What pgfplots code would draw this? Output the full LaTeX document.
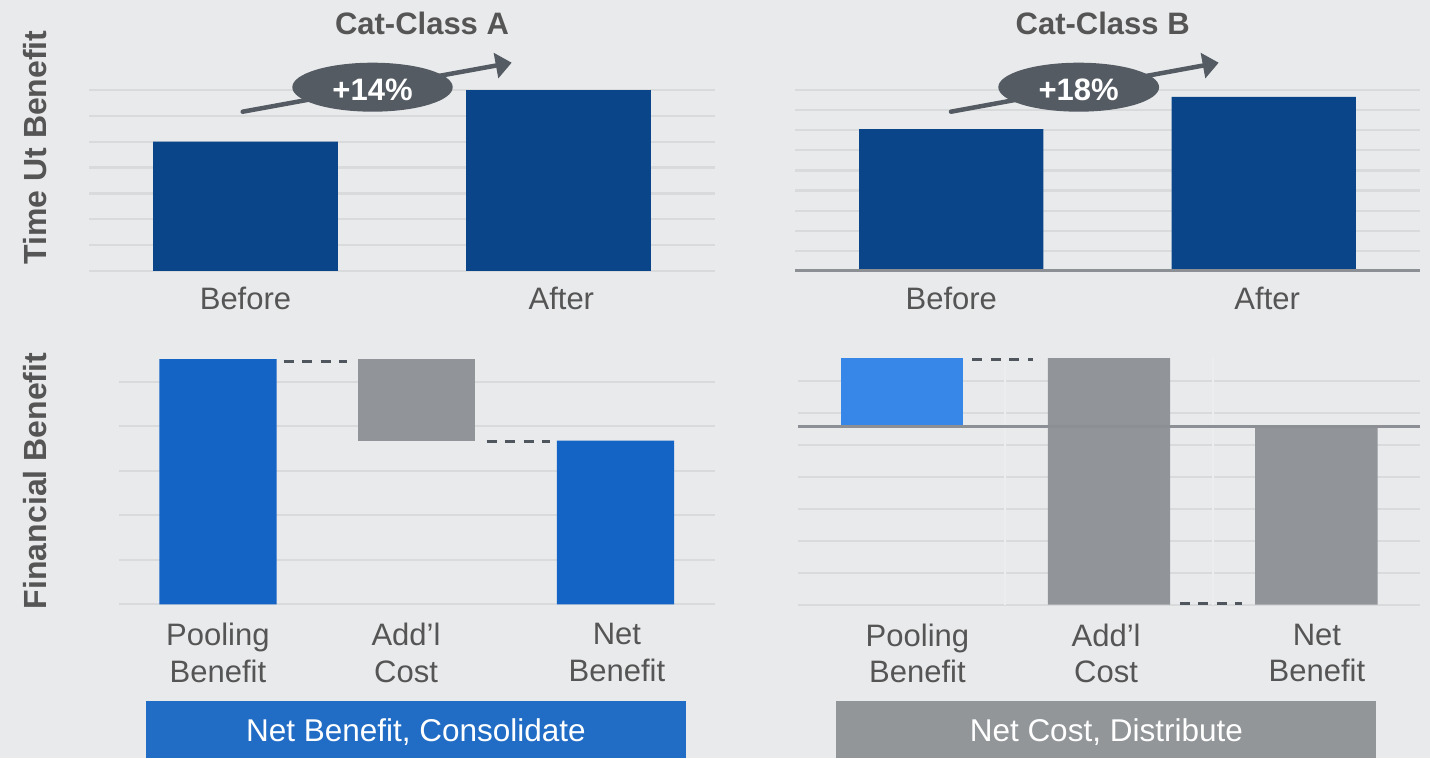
\documentclass[border=0pt]{standalone}
\usepackage{fontspec}
\setmainfont{Liberation Sans}
\usepackage{pgfplots}
\pgfplotsset{compat=1.18}
\usetikzlibrary{arrows.meta}
\definecolor{bg}{HTML}{E9EAEC}
\definecolor{gridc}{HTML}{D9DADC}
\definecolor{darkblue}{HTML}{0B4589}
\definecolor{midblue}{HTML}{1464C6}
\definecolor{lightblue}{HTML}{3787E8}
\definecolor{barGray}{HTML}{919599}
\definecolor{zeroc}{HTML}{8C8F93}
\definecolor{txt}{HTML}{555555}
\definecolor{bubble}{HTML}{545B63}
\definecolor{dashc}{HTML}{50565D}
\definecolor{bannerBlue}{HTML}{216CC5}
\definecolor{bannerGray}{HTML}{929699}
\definecolor{sepc}{HTML}{ECEDEE}

\pgfplotsset{
  panel/.style={
    scale only axis, anchor=south west, clip=false,
    axis line style={draw=none},
    major tick length=0pt,
    tick style={draw=none},
    ymajorgrids, xmajorgrids=false,
    grid style={gridc, line width=2.2pt},
    yticklabels={},
    enlargelimits=false,
    xticklabel style={font=\fontsize{31}{36.6}\selectfont, text=txt, anchor=north, inner sep=0pt, align=center},
  }
}

\begin{document}
\begin{tikzpicture}
\fill[bg] (0,0) rectangle (1430pt,758pt);

% ---------- Top left ----------
\begin{axis}[panel, at={(89pt,487pt)}, width=626pt, height=181pt,
  xmin=-0.5, xmax=1.5, ymin=0, ymax=7, ytick={0,1,2,3,4,5,6,7},
  xtick={0,1.009}, xticklabels={Before,After},
  xticklabel style={yshift=-16.3pt}]
\addplot[ybar, bar width=0.59, fill=darkblue, draw=none] coordinates {(0,5) (1,7)};
\end{axis}

% ---------- Top right ----------
\begin{axis}[panel, at={(795pt,487pt)}, width=625pt, height=181pt,
  xmin=-0.5, xmax=1.5, ymin=0, ymax=9, ytick={0,1,2,3,4,5,6,7,8,9},
  xtick={0,1.011}, xticklabels={Before,After},
  xticklabel style={yshift=-16.3pt}]
\addplot[ybar, bar width=0.59, fill=darkblue, draw=none] coordinates {(0,7.06) (1,8.66)};
\draw[zeroc, line width=3pt] (axis cs:-0.5,0) -- (axis cs:1.5,0);
\end{axis}

% ---------- Bottom left ----------
\begin{axis}[panel, at={(118.5pt,153.7pt)}, width=596.5pt, height=249.2pt,
  xmin=-0.5, xmax=2.5, ymin=0, ymax=5.6, ytick={0,1,2,3,4,5},
  xtick={0,0.946,2.007}, xticklabels={{Pooling\\Benefit},{Add’l\\Cost},{Net\\Benefit}},
  xticklabel style={yshift=-19pt},
  ybar stacked, bar width=0.59]
\addplot[draw=none, fill=none] coordinates {(0,0) (1,3.68) (2,0)};
\addplot[draw=none, fill=midblue] coordinates {(0,5.51) (1,0) (2,3.68)};
\addplot[draw=none, fill=barGray] coordinates {(0,0) (1,1.83) (2,0)};
\draw[dashc, line width=2.6pt, dash pattern=on 10pt off 8.5pt] (axis cs:0.331,5.46) -- (axis cs:0.647,5.46);
\draw[dashc, line width=2.6pt, dash pattern=on 10pt off 8.5pt] (axis cs:1.352,3.66) -- (axis cs:1.668,3.66);
\end{axis}

% ---------- Bottom right ----------
\begin{axis}[panel, at={(798pt,153.3pt)}, width=622pt, height=248.8pt,
  xmin=-0.5, xmax=2.5, ymin=-5.575, ymax=2.2,
  ytick={-5.575,-4.575,-3.575,-2.575,-1.575,-0.575,0.425,1.425},
  xtick={0.076,0.986,2.003}, xticklabels={{Pooling\\Benefit},{Add’l\\Cost},{Net\\Benefit}},
  xticklabel style={yshift=-19pt}]
\draw[sepc, line width=2pt] (axis cs:0.5,-5.575) -- (axis cs:0.5,2.134);
\draw[sepc, line width=2pt] (axis cs:1.5,-5.575) -- (axis cs:1.5,2.134);
\addplot[ybar, bar width=0.59, draw=none, fill=lightblue] coordinates {(0,2.134)};
\addplot[ybar, bar width=0.59, draw=none, fill=barGray] coordinates {(1,2.134) (1,-5.575) (2,-5.575)};
\draw[zeroc, line width=3pt] (axis cs:-0.5,0) -- (axis cs:2.5,0);
\draw[dashc, line width=2.6pt, dash pattern=on 10pt off 8.5pt] (axis cs:0.341,2.08) -- (axis cs:0.635,2.08);
\draw[dashc, line width=2.6pt, dash pattern=on 10pt off 8.5pt] (axis cs:1.341,-5.53) -- (axis cs:1.640,-5.53);
\end{axis}

% ---------- Titles and axis labels ----------
\node[anchor=base, text=txt, font=\bfseries\fontsize{31}{36}\selectfont] at (422pt,723pt) {Cat-Class A};
\node[anchor=base, text=txt, font=\bfseries\fontsize{31}{36}\selectfont] at (1102.7pt,723pt) {Cat-Class B};
\node[rotate=90, anchor=base, text=txt, font=\bfseries\fontsize{32}{38}\selectfont] at (46pt,610.5pt) {Time Ut Benefit};
\node[rotate=90, anchor=base, text=txt, font=\bfseries\fontsize{32}{38}\selectfont] at (46pt,277pt) {Financial Benefit};

% ---------- Growth annotations ----------
\draw[bubble, line width=4.5pt, line cap=round, -{Triangle[length=16pt,width=25pt]}] (242.7pt,646.3pt) -- (511.7pt,695.3pt);
\fill[bubble] (372.5pt,670.8pt) ellipse [x radius=80.2pt, y radius=24.5pt];
\node[anchor=base, text=white, font=\bfseries\fontsize{31}{36}\selectfont] at (372.5pt,657.5pt) {+14\%};

\draw[bubble, line width=4.5pt, line cap=round, -{Triangle[length=16pt,width=25pt]}] (951pt,646.3pt) -- (1218.7pt,695.3pt);
\fill[bubble] (1078.7pt,670.8pt) ellipse [x radius=80.4pt, y radius=24.5pt];
\node[anchor=base, text=white, font=\bfseries\fontsize{31}{36}\selectfont] at (1078.7pt,657.5pt) {+18\%};

% ---------- Banners ----------
\fill[bannerBlue] (145.9pt,0pt) rectangle (685.8pt,57pt);
\node[anchor=base, text=white, font=\fontsize{31.5}{36}\selectfont] at (415.9pt,17pt) {Net Benefit, Consolidate};
\fill[bannerGray] (836.3pt,0pt) rectangle (1376.2pt,57pt);
\node[anchor=base, text=white, font=\fontsize{31.5}{36}\selectfont] at (1106.3pt,17pt) {Net Cost, Distribute};

\pgfresetboundingbox
\useasboundingbox (0,0) rectangle (1430pt,758pt);
\end{tikzpicture}
\end{document}
